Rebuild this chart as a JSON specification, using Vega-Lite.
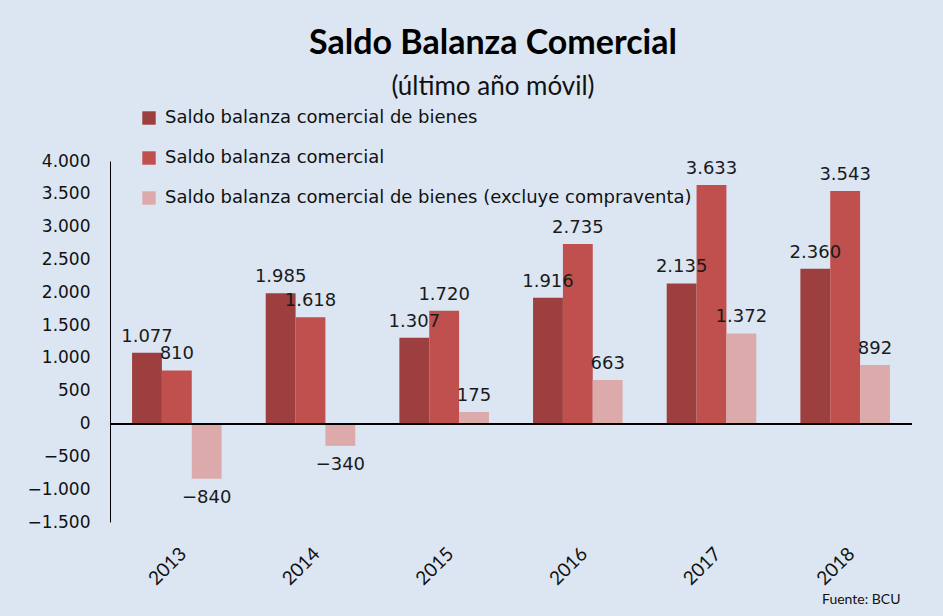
{
  "$schema": "https://vega.github.io/schema/vega-lite/v6.json",
  "width": 802,
  "height": 361,
  "autosize": {"type": "none"},
  "padding": {"left": 110, "top": 161, "right": 31, "bottom": 94},
  "background": "#dce6f2",
  "config": {
    "view": {"stroke": null},
    "locale": {"number": {"decimal": ",", "thousands": ".", "grouping": [3], "currency": ["$", ""]}}
  },
  "title": {
    "text": "Saldo Balanza Comercial",
    "subtitle": "(último año móvil)",
    "font": "Lato",
    "fontSize": 34,
    "fontWeight": "bold",
    "color": "#000000",
    "subtitleFont": "Lato",
    "subtitleFontSize": 26,
    "subtitleColor": "#111111",
    "subtitlePadding": 13,
    "anchor": "middle",
    "dx": -18,
    "offset": 9
  },
  "data": {
    "values": [
      {"year": "2013", "series": "Saldo balanza comercial de bienes", "value": 1077},
      {"year": "2013", "series": "Saldo balanza comercial", "value": 810},
      {"year": "2013", "series": "Saldo balanza comercial de bienes (excluye compraventa)", "value": -840},
      {"year": "2014", "series": "Saldo balanza comercial de bienes", "value": 1985},
      {"year": "2014", "series": "Saldo balanza comercial", "value": 1618},
      {"year": "2014", "series": "Saldo balanza comercial de bienes (excluye compraventa)", "value": -340},
      {"year": "2015", "series": "Saldo balanza comercial de bienes", "value": 1307},
      {"year": "2015", "series": "Saldo balanza comercial", "value": 1720},
      {"year": "2015", "series": "Saldo balanza comercial de bienes (excluye compraventa)", "value": 175},
      {"year": "2016", "series": "Saldo balanza comercial de bienes", "value": 1916},
      {"year": "2016", "series": "Saldo balanza comercial", "value": 2735},
      {"year": "2016", "series": "Saldo balanza comercial de bienes (excluye compraventa)", "value": 663},
      {"year": "2017", "series": "Saldo balanza comercial de bienes", "value": 2135},
      {"year": "2017", "series": "Saldo balanza comercial", "value": 3633},
      {"year": "2017", "series": "Saldo balanza comercial de bienes (excluye compraventa)", "value": 1372},
      {"year": "2018", "series": "Saldo balanza comercial de bienes", "value": 2360},
      {"year": "2018", "series": "Saldo balanza comercial", "value": 3543},
      {"year": "2018", "series": "Saldo balanza comercial de bienes (excluye compraventa)", "value": 892}
    ]
  },
  "encoding": {
    "x": {
      "field": "year",
      "type": "nominal",
      "scale": {"paddingInner": 0.33, "paddingOuter": 0.165},
      "axis": {
        "title": "Fuente: BCU",
        "titleAnchor": "end",
        "titleAlign": "right",
        "titleFont": "Lato",
        "titleFontSize": 14,
        "titleFontWeight": "normal",
        "titleColor": "#111111",
        "titlePadding": 4,
        "titleX": 790,
        "domain": false,
        "ticks": false,
        "labelAngle": -45,
        "labelFont": "Lato",
        "labelFontSize": 19,
        "labelColor": "#111111",
        "labelPadding": 22
      }
    },
    "xOffset": {
      "field": "series",
      "type": "nominal",
      "sort": ["Saldo balanza comercial de bienes", "Saldo balanza comercial", "Saldo balanza comercial de bienes (excluye compraventa)"],
      "scale": {"paddingInner": 0, "paddingOuter": 0}
    },
    "y": {
      "field": "value",
      "type": "quantitative",
      "scale": {"domain": [-1500, 4000], "nice": false, "zero": false},
      "axis": {
        "title": null,
        "values": [-1500, -1000, -500, 0, 500, 1000, 1500, 2000, 2500, 3000, 3500, 4000],
        "format": ",d",
        "grid": false,
        "ticks": false,
        "domainColor": "#000000",
        "domainWidth": 1,
        "labelFont": "DejaVu Sans",
        "labelFontSize": 17,
        "labelColor": "#111111",
        "labelPadding": 20
      }
    }
  },
  "layer": [
    {
      "mark": {"type": "bar"},
      "encoding": {
        "color": {
          "field": "series",
          "type": "nominal",
          "scale": {
            "domain": ["Saldo balanza comercial de bienes", "Saldo balanza comercial", "Saldo balanza comercial de bienes (excluye compraventa)"],
            "range": ["#9c3f3e", "#c0504d", "#dcaaaa"]
          },
          "legend": {
            "title": null,
            "orient": "none",
            "legendX": 30,
            "legendY": -52,
            "symbolType": "square",
            "symbolSize": 180,
            "symbolStrokeWidth": 0,
            "symbolOpacity": 1,
            "labelFont": "DejaVu Sans",
            "labelFontSize": 18,
            "labelColor": "#111111",
            "labelOffset": 7,
            "labelLimit": 700,
            "rowPadding": 22
          }
        }
      }
    },
    {
      "mark": {"type": "rule", "color": "#000000", "strokeWidth": 1.2},
      "encoding": {"y": {"datum": 0}, "x": null, "xOffset": null}
    },
    {
      "transform": [{"filter": "datum.value >= 0"}],
      "mark": {"type": "text", "baseline": "bottom", "dy": -7, "font": "DejaVu Sans", "fontSize": 18, "color": "#1a1a1a"},
      "encoding": {"text": {"field": "value", "type": "quantitative", "format": ",d"}}
    },
    {
      "transform": [{"filter": "datum.value < 0"}],
      "mark": {"type": "text", "baseline": "top", "dy": 10, "font": "DejaVu Sans", "fontSize": 18, "color": "#1a1a1a"},
      "encoding": {"text": {"field": "value", "type": "quantitative", "format": ",d"}}
    }
  ]
}
